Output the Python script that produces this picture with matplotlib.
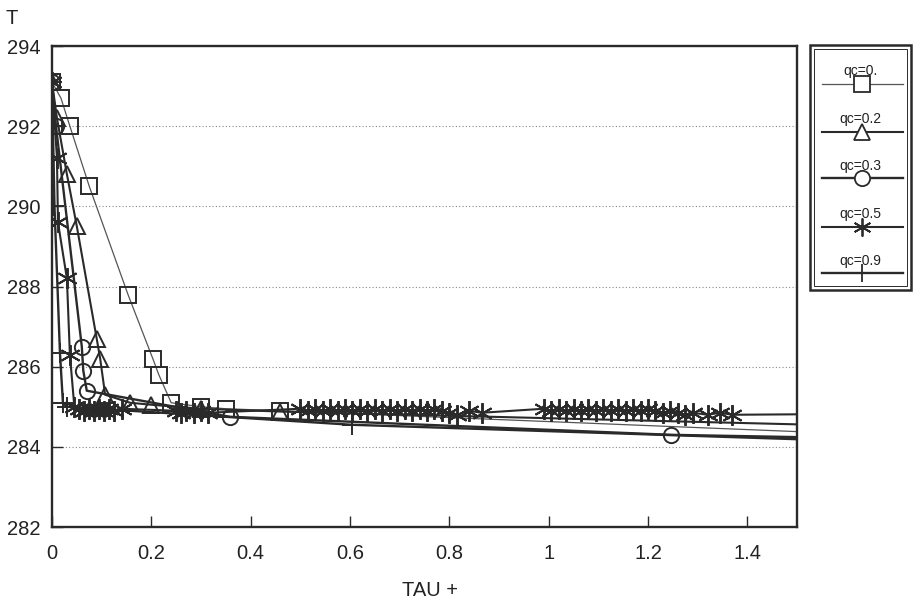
import matplotlib
matplotlib.use("Agg")
import matplotlib.pyplot as plt
from matplotlib.lines import Line2D
from matplotlib.patches import Rectangle

plt.rcParams['font.family'] = ['Liberation Sans', 'DejaVu Sans']

# ---------------- data ----------------
tau_qc00 = [0.0, 0.018, 0.036, 0.075, 0.153, 0.203, 0.215, 0.24, 0.30, 0.35, 0.46, 1.6]
T_qc00 = [293.1, 292.7, 292.0, 290.5, 287.8, 286.2, 285.8, 285.1, 285.0, 284.95, 284.9, 284.33]

tau_qc02 = [0.0, 0.01, 0.03, 0.05, 0.09, 0.097, 0.107, 0.157, 0.20, 0.30, 0.46, 1.6]
T_qc02 = [293.1, 292.2, 290.8, 289.5, 286.7, 286.2, 285.3, 285.1, 285.05, 284.95, 284.88, 284.53]

tau_qc03 = [0.0, 0.008, 0.06, 0.063, 0.07, 0.358, 1.246, 1.6]
T_qc03 = [293.1, 292.0, 286.5, 285.9, 285.4, 284.75, 284.3, 284.22]

tau_qc05 = [0.0, 0.01, 0.012, 0.03, 0.036,
            0.045, 0.055, 0.065, 0.075, 0.085, 0.095, 0.105, 0.115, 0.125, 0.14,
            0.25, 0.26, 0.27, 0.285, 0.30, 0.315,
            0.50, 0.515, 0.53, 0.545, 0.56, 0.575, 0.59, 0.605, 0.62, 0.635,
            0.65, 0.665, 0.68, 0.695, 0.71, 0.725, 0.74, 0.755, 0.77, 0.785,
            0.80, 0.815, 0.84, 0.865,
            0.99, 1.005, 1.02, 1.035, 1.05, 1.065, 1.08, 1.095, 1.11, 1.125,
            1.14, 1.155, 1.17, 1.185, 1.20, 1.215, 1.23, 1.245, 1.26, 1.275,
            1.29, 1.32, 1.345, 1.37, 1.6]
T_qc05 = [293.1, 291.2, 289.6, 288.2, 286.3,
          285.0, 284.95, 284.9, 284.95, 284.9, 284.95, 284.9, 284.95, 284.9, 284.95,
          284.9, 284.85, 284.9, 284.85, 284.9, 284.85,
          284.95, 284.9, 284.95, 284.9, 284.95, 284.9, 284.95, 284.9, 284.95, 284.9,
          284.95, 284.9, 284.95, 284.9, 284.95, 284.9, 284.95, 284.9, 284.95, 284.9,
          284.85, 284.8, 284.9, 284.85,
          284.95, 284.9, 284.95, 284.9, 284.95, 284.9, 284.95, 284.9, 284.95, 284.9,
          284.95, 284.9, 284.95, 284.9, 284.95, 284.9, 284.85, 284.9, 284.85, 284.8,
          284.85, 284.8, 284.85, 284.8, 284.82]

tau_qc09 = [0.0, 0.005, 0.016, 0.022, 0.03, 0.604, 1.6]
T_qc09 = [293.1, 290.0, 286.35, 285.1, 285.0, 284.55, 284.15]

series_labels = ["qc=0.", "qc=0.2", "qc=0.3", "qc=0.5", "qc=0.9"]
y_ticks = [282, 284, 286, 288, 290, 292, 294]
x_ticks = [0, 0.2, 0.4, 0.6, 0.8, 1.0, 1.2, 1.4]
x_tick_labels = ["0", "0.2", "0.4", "0.6", "0.8", "1", "1.2", "1.4"]

# ---------------- figure ----------------
W, H = 915, 606
fig = plt.figure(figsize=(W / 100, H / 100), dpi=100)
fig.patch.set_facecolor('white')
ax = fig.add_axes([52 / W, 1 - 527 / H, (797 - 52) / W, (527 - 46) / H])

ink = '#2a2a2a'
star = (6, 2, 0)
styles = [
    dict(marker='s', ms=12, lw=0.9, color='#555555'),
    dict(marker='^', ms=11, lw=1.5, color=ink),
    dict(marker='o', ms=11, lw=1.7, color=ink),
    dict(marker=star, ms=15, lw=1.5, color=ink),
    dict(marker='+', ms=14, lw=1.7, color=ink),
]
data = [(tau_qc00, T_qc00), (tau_qc02, T_qc02), (tau_qc03, T_qc03),
        (tau_qc05, T_qc05), (tau_qc09, T_qc09)]

for (xs, ys), st in zip(data, styles):
    ax.plot(xs, ys, color=st['color'], lw=st['lw'], marker=st['marker'],
            ms=st['ms'], mfc='none', mec=ink, mew=1.4)

ax.set_xlim(0, 1.5)
ax.set_ylim(282, 294)
ax.set_yticks(y_ticks)
ax.set_xticks(x_ticks)
ax.set_xticklabels(x_tick_labels)
ax.tick_params(axis='both', direction='in', length=8, width=1, colors=ink,
               labelsize=14.5, labelcolor='#222222')
ax.tick_params(axis='x', pad=12)
ax.tick_params(axis='y', pad=8)
for sp in ax.spines.values():
    sp.set_linewidth(1.7)
    sp.set_color(ink)
ax.grid(axis='y', linestyle=(0, (1, 2)), color='#888888', lw=0.8)
ax.set_axisbelow(True)

fig.text(12 / W, 1 - 18 / H, "T", fontsize=14.5, color='#222222', ha='center', va='center')
fig.text(430 / W, 1 - 590 / H, "TAU +", fontsize=14.5, color='#222222', ha='center', va='center')

# ---------------- legend box ----------------
fig.patches.append(Rectangle((810 / W, 1 - 290 / H), (911 - 810) / W, (290 - 45) / H,
                             transform=fig.transFigure, fill=False, lw=1.8, ec=ink))
fig.patches.append(Rectangle((814 / W, 1 - 286 / H), (907 - 814) / W, (286 - 49) / H,
                             transform=fig.transFigure, fill=False, lw=0.7, ec=ink))
text_y = [71, 119, 166, 214, 261]
line_y = [84, 132, 178, 227, 273]
for lab, ty, ly, st in zip(series_labels, text_y, line_y, styles):
    fig.text(860 / W, 1 - ty / H, lab, fontsize=10, color='#222222', ha='center', va='center')
    fig.lines.append(Line2D([822 / W, 903 / W], [1 - ly / H, 1 - ly / H],
                            transform=fig.transFigure, color=st['color'], lw=st['lw']))
    fig.lines.append(Line2D([862 / W], [1 - ly / H], transform=fig.transFigure,
                            marker=st['marker'], ms=min(st['ms'], 13), mfc='white', mec=ink,
                            mew=1.3, lw=0))

fig.savefig("out.png", dpi=100, facecolor='white')
